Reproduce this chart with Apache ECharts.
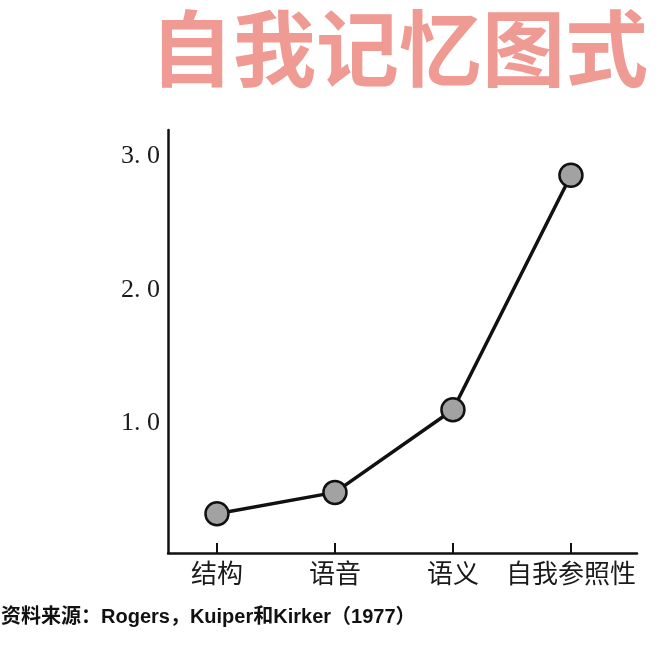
<!DOCTYPE html>
<html>
<head>
<meta charset="utf-8">
<title>自我记忆图式</title>
<script src="https://cdn.jsdelivr.net/npm/echarts@6/dist/echarts.min.js"></script>
<style>
  html, body { margin: 0; padding: 0; background: #fff; }
  #chart { width: 672px; height: 645px; }
</style>
</head>
<body>
<div id="chart"></div>
<script>
// 加工类型
var categories = ['结构', '语音', '语义', '自我参照性'];
// 回忆成绩
var recallValues = [0.32, 0.48, 1.10, 2.86];
// y轴刻度
var yTicks = [1, 2, 3];

var titleText = '自我记忆图式';
var sourceText = '资料来源：Rogers，Kuiper和Kirker（1977）';

var chartDom = document.getElementById('chart');
var myChart = echarts.init(chartDom);

var seriesData = categories.map(function (name, i) {
  return [i, recallValues[i]];
});

var option = {
  animation: false,
  backgroundColor: '#fff',
  grid: {
    left: 168,
    right: 35,
    top: 130,
    bottom: 92,
    outerBoundsMode: 'none'
  },
  xAxis: {
    type: 'value',
    min: -0.415,
    max: 3.56,
    axisLine: { show: true, onZero: false, lineStyle: { color: '#111', width: 2.5 } },
    axisTick: {
      show: true,
      inside: true,
      length: 10,
      customValues: [0, 1, 2, 3],
      lineStyle: { color: '#111', width: 2 }
    },
    axisLabel: {
      customValues: [0, 1, 2, 3],
      formatter: function (v) { return categories[Math.round(v)]; },
      fontFamily: 'Noto Sans CJK SC',
      fontSize: 26,
      color: '#1a1a1a',
      margin: 7
    },
    splitLine: { show: false }
  },
  yAxis: {
    type: 'value',
    min: 0.025,
    max: 3.2,
    axisLine: { show: true, onZero: false, lineStyle: { color: '#111', width: 2.5 } },
    axisTick: { show: false },
    axisLabel: {
      customValues: yTicks,
      // 原图小数点后有空隙
      formatter: function (v) { return v.toFixed(1).replace('.', '. '); },
      fontFamily: 'Liberation Serif',
      fontSize: 26,
      color: '#1a1a1a',
      margin: 8
    },
    splitLine: { show: false }
  },
  series: [
    {
      type: 'line',
      data: seriesData,
      symbol: 'circle',
      symbolSize: 23,
      lineStyle: { color: '#111', width: 3.5 },
      itemStyle: { color: '#a2a2a2', borderColor: '#111', borderWidth: 2.5 }
    }
  ],
  graphic: [
    {
      type: 'text',
      x: 399,
      y: 48,
      style: {
        text: titleText,
        fontFamily: 'Noto Sans CJK SC',
        fontWeight: 'bold',
        fontSize: 83,
        fill: '#ef9a92',
        textAlign: 'center',
        textVerticalAlign: 'middle'
      }
    },
    {
      type: 'text',
      x: 1,
      y: 617,
      style: {
        text: sourceText,
        fontFamily: 'Liberation Sans, Noto Sans CJK SC',
        fontWeight: 'bold',
        fontSize: 20,
        fill: '#111',
        textAlign: 'left',
        textVerticalAlign: 'middle'
      }
    }
  ]
};

myChart.setOption(option);
</script>
</body>
</html>
